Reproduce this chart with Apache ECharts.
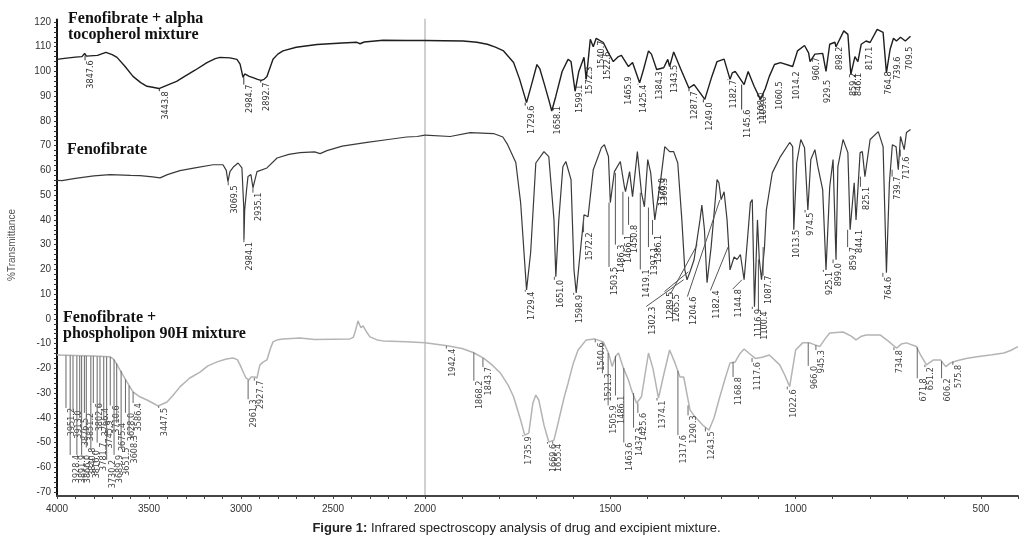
<!DOCTYPE html>
<html>
<head>
<meta charset="utf-8">
<script src="https://cdn.jsdelivr.net/npm/echarts@6/dist/echarts.min.js"></script>
<style>
  html, body { margin: 0; padding: 0; background: #fff; }
  #main { width: 1033px; height: 536px; }
</style>
</head>
<body>
<div id="main"></div>
<script>
// spectra: [wavenumber cm-1, %T]
const tocoTrace = [
  [4000,104.9],[3960,105.3],[3900,105.8],[3864,106],[3850,107.3],[3840,106.2],[3780,106.5],[3734,107.7],[3700,106.8],
  [3674,105.7],[3630,102],[3587,98],[3545,95.5],[3511,94],[3480,93.6],[3446,93.1],[3400,94.5],[3350,96],[3315,97.6],
  [3250,100.5],[3185,103.6],[3140,105.2],[3114,105.7],[3060,105.5],[3022,104.9],[3005,103],[2989,97.6],[2980,99],
  [2973,99.6],[2955,98],[2935,97.5],[2910,96.8],[2891,96.4],[2875,96.8],[2859,98],[2840,102],[2826,104.9],[2800,107],
  [2772,108.3],[2700,109.8],[2587,110.9],[2450,111.5],[2370,111.8],[2353,111.2],[2330,111.9],[2228,112.6],[2100,112.5],
  [2000,112.5],[1950,112.4],[1897,112.3],[1860,111.8],[1832,111],[1810,109.8],[1788,108.3],[1761,103.6],[1745,97],
  [1726,87.4],[1712,95],[1698,102.8],[1690,101],[1679,95.4],[1665,88],[1658,84],[1647,90],[1630,100],[1614,104.9],
  [1606,104],[1595,92],[1585,100],[1571,105.7],[1565,96.8],[1560,104],[1554,113],[1546,110],[1538,113.4],[1519,111.7],
  [1505,107.5],[1492,104],[1478,106],[1470,106.5],[1451,102],[1440,103.6],[1421,95.4],[1410,101],[1397,108.3],
  [1389,107],[1375,100.8],[1356,101.5],[1345,104.9],[1340,102],[1329,107.9],[1310,101],[1288,93.3],[1274,94.7],
  [1245,88.7],[1226,98],[1212,104],[1193,105],[1177,96.8],[1171,99.4],[1163,100],[1139,94.7],[1128,100],[1112,94],
  [1095,88.7],[1082,93],[1071,98],[1057,102.8],[1041,103.6],[1008,102],[995,108.3],[976,110.5],[965,107.5],[961,104],
  [948,107],[927,107.3],[918,100],[908,111],[894,111.8],[891,110],[870,116.4],[859,115],[851,98.8],[840,106],[832,104],
  [823,111],[810,112.3],[799,111.7],[780,117],[764,115.8],[755,99.4],[745,109],[736,113.4],[728,112.3],[717,113.8],
  [704,112.3],[690,114.2]
];
const fenoTrace = [
  [4000,56],[3973,55.9],[3900,56.8],[3800,57.8],[3712,58.3],[3600,58],[3549,57.9],[3480,57.4],[3440,57],[3400,58.3],
  [3332,59.9],[3250,61],[3152,62.3],[3098,62.3],[3080,60],[3071,55.5],[3060,59.5],[3040,61.5],[3016,63],[2995,61],
  [2985,45],[2984,32],[2980,44],[2970,52],[2962,57.5],[2946,58.3],[2935,53],[2925,56],[2913,59.5],[2859,61],[2804,65],
  [2740,66.5],[2679,67.2],[2600,67.5],[2570,66.8],[2533,68],[2450,69.8],[2315,71.3],[2200,72.5],[2100,73.5],[2043,73.7],
  [2000,74.3],[1932,73.7],[1878,75.3],[1815,74.9],[1790,73.5],[1777,70.4],[1755,63.2],[1742,47],[1726,11.7],[1715,26.7],
  [1701,63],[1679,67.6],[1666,65.6],[1652,40],[1647,17],[1639,40],[1628,61.5],[1620,63.6],[1606,56.3],[1598,19.8],
  [1592,10.5],[1584,22.7],[1573,38.9],[1571,42.1],[1560,41.3],[1546,60.3],[1524,69.2],[1516,70.4],[1505,65.6],[1500,47],
  [1489,59.5],[1484,60.3],[1473,63.6],[1462,53.4],[1459,51.4],[1448,59.5],[1440,49.4],[1427,67.6],[1416,51],[1408,45.3],
  [1399,64.4],[1391,59],[1380,40],[1372,48.2],[1364,56.3],[1353,69.6],[1340,67.6],[1329,67.6],[1318,63],[1307,40],
  [1299,19.8],[1293,15.8],[1285,19],[1274,23.9],[1258,40],[1253,46],[1246,36],[1239,14.6],[1228,29],[1212,56.3],
  [1207,55],[1201,48.2],[1193,51.4],[1185,40],[1177,19.8],[1166,25],[1158,24],[1149,26],[1139,15.8],[1130,32],[1122,47],
  [1117,48.2],[1111,4.9],[1103,40],[1098,24],[1092,15.8],[1084,29],[1079,44],[1063,59],[1041,65.6],[1016,71.3],
  [1008,69.6],[1005,36],[997,63.2],[986,72.5],[976,69.2],[967,44],[959,64.4],[948,68.4],[940,61.5],[927,52.2],
  [918,19.8],[908,53.4],[899,64.4],[891,23.9],[886,61.5],[872,72.5],[859,67.2],[853,36],[842,55],[837,40],[826,67.2],
  [820,67.6],[813,57.5],[799,72.5],[777,75.7],[764,69.6],[755,18.6],[747,55],[739,70.4],[729,69.6],[723,60.3],
  [717,73.7],[707,68.4],[701,75.3],[690,76.5]
];
const phosTrace = [
  [4000,-14.6],[3900,-14.8],[3800,-15],[3712,-15.3],[3690,-16.5],[3658,-20.6],[3620,-25.5],[3587,-29.5],[3550,-31.5],
  [3511,-32.8],[3480,-34],[3451,-35.2],[3402,-33.6],[3370,-31],[3332,-27.5],[3280,-24],[3223,-21.5],[3180,-19],
  [3130,-17.4],[3080,-16.2],[3043,-15.8],[3020,-16.5],[3005,-18.6],[2985,-22],[2973,-23.9],[2957,-24.7],[2945,-23.5],
  [2935,-22.7],[2925,-23.5],[2913,-23.9],[2905,-21],[2897,-18.6],[2880,-17.5],[2859,-16.6],[2840,-12],[2826,-9.3],
  [2800,-8.4],[2772,-8.1],[2679,-7.7],[2600,-8.3],[2500,-8.2],[2408,-8.1],[2390,-7.5],[2380,-5.3],[2364,-0.8],
  [2355,-2.5],[2348,-3.6],[2337,-2.8],[2320,-5],[2299,-7.3],[2260,-8.5],[2228,-8.9],[2100,-9.3],[2000,-9.7],
  [1940,-10.9],[1900,-12],[1870,-13.6],[1842,-15.9],[1820,-18.5],[1796,-22],[1775,-27],[1761,-31.5],[1742,-40.9],
  [1731,-47],[1720,-46.2],[1709,-34.1],[1701,-30.8],[1693,-32.8],[1679,-42.9],[1666,-49.8],[1652,-49],[1639,-40.9],
  [1625,-32],[1614,-26],[1600,-18],[1587,-12.6],[1565,-8.5],[1543,-8.1],[1519,-9.3],[1505,-13.8],[1495,-19.3],
  [1485,-15],[1478,-13.8],[1465,-19.8],[1451,-24.7],[1443,-28.7],[1429,-34.1],[1416,-31.5],[1397,-13.8],[1385,-20],
  [1370,-32],[1355,-22],[1340,-12.6],[1325,-18],[1312,-23.5],[1302,-23.5],[1285,-36.8],[1272,-39.5],[1250,-43],
  [1234,-45],[1220,-40],[1207,-32.8],[1190,-24],[1177,-17.8],[1163,-17.4],[1150,-14],[1139,-12.2],[1125,-14],
  [1109,-16],[1090,-15.5],[1071,-14.6],[1043,-18.6],[1030,-22.5],[1016,-27.4],[1008,-20],[1000,-12.6],[981,-9.7],
  [962,-9.7],[948,-10.5],[935,-11.2],[920,-8],[908,-5.7],[872,-5.3],[850,-7],[837,-8.5],[822,-7],[810,-6.5],
  [772,-6.5],[750,-9],[728,-11.8],[715,-10.2],[701,-9.7],[674,-11.2],[663,-14.6],[647,-18.6],[628,-16.6],[609,-16.6],
  [595,-19.3],[582,-17.8],[565,-16.9],[540,-16],[511,-15.3],[470,-14.5],[438,-13.8],[420,-12.8],[400,-11.2]
];

// peak labels: [peak cm-1, %T at peak, %T where the label starts, (label cm-1 if shifted)]
const tocoPeaks = [
  [3847.6,106.5,104.5],[3443.8,93.1,92],[2984.7,97.6,94.7],[2892.7,96.4,95.5],
  [1729.6,87.4,86.2],[1658.1,86,86],[1599.1,94.7,94.7],[1572.3,102,102],[1540.7,112.5,112.5],[1522.6,108,108],
  [1465.9,98,98],[1425.4,95,94.7],[1384.3,100,100],[1343.5,102.7,102.7],[1287.7,93.3,92],[1249.0,88.7,87.5],
  [1182.7,96.8,96.5],[1145.6,94.7,84.6],[1108.0,91.5,91.5],[1103.0,90,90],[1060.5,96,96],[1014.2,100,100],
  [960.7,105.7,105.7],[929.5,96.6,96.6],[898.2,110,110],[859.2,99.4,99.4],[846.1,99.4,99.4],[817.1,110,110],
  [764.8,100,100],[739.6,106,106],[709.5,110,110]
];
const fenoPeaks = [
  [3069.5,55.5,54],[2984.1,32,31],[2935.1,53,51],
  [1729.4,11.7,11],[1651.0,17,15.8],[1598.9,10.5,9.7],[1572.2,41,35],[1503.5,47,21],[1486.3,59,30],[1466.1,51.4,34],
  [1450.8,49.4,38],[1419.1,51,20],[1397.1,45,29],[1386.1,40,34],[1376.0,57,57],[1369.3,57,57],
  [1302.3,15.8,5,1403],[1289.5,19,11,1354],[1265.5,30,10,1338],[1204.6,48,9,1292],[1182.4,29,11.5,1230],
  [1144.8,15.8,12,1170],[1116.9,4.9,4],[1100.4,24,3],[1087.7,29,17.5],
  [1013.5,36,36],[974.5,44,43],[925.1,19.8,19],[899.0,24,22.5],[859.7,36,29],[844.1,36,36],[825.1,57.5,53.4],
  [764.6,18.6,17],[739.7,60.3,57.5],[717.6,68.4,65.6]
];
const phosPeaks = [
  [3951.2,-14.8,-36],[3928.4,-14.8,-55],[3913.0,-14.9,-37],[3891.9,-15,-55],[3876.5,-15,-40],[3866.0,-15,-55],
  [3851.2,-15,-38],[3840.8,-15,-52],[3816.0,-15.1,-53],[3802.6,-15.1,-34],[3781.7,-15.2,-50],[3766.4,-15.2,-36],
  [3745.9,-15.3,-41],[3730.2,-15.3,-57],[3710.6,-15.4,-35],[3689.9,-16.5,-55],[3675.4,-18,-42],[3651.5,-21,-52],
  [3628.0,-24.5,-38],[3608.3,-27,-47],[3586.4,-29.5,-34],
  [3447.5,-35.2,-36],[2961.3,-24.7,-32.5],[2927.7,-23.9,-25],
  [1942.4,-10.9,-12],[1868.2,-13.6,-25],[1843.7,-15.9,-19.5],[1735.9,-47,-47.5],[1669.6,-49.8,-50.5],[1655.4,-49.5,-50.5],
  [1540.6,-8.3,-9.5],[1521.3,-9.5,-22],[1505.9,-13.8,-35],[1486.1,-15,-31],[1463.6,-19.8,-50],[1437.3,-30,-44],
  [1425.6,-34.1,-38],[1374.1,-32,-33],[1317.6,-21,-47],[1290.3,-35,-39],[1243.5,-44,-45.5],[1168.8,-17.4,-23.5],
  [1117.6,-15.8,-17.5],[1022.6,-27.4,-28.5],[966.0,-9.7,-19],[945.3,-10.6,-12.6],[734.8,-11.5,-12.6],
  [671.8,-11.5,-24],[651.2,-18.6,-19.5],[606.2,-17,-24],[575.8,-17.2,-18.6]
];

const yMajor = [], yMinor = [];
for (let v = -70; v <= 120; v += 10) yMajor.push(v);
for (let v = -70; v <= 120; v += 2) yMinor.push(v);
const xTicksHigh = [], xTicksLow = [];
for (let v = 2000; v <= 4000; v += 100) xTicksHigh.push(v);
for (let v = 400; v <= 2000; v += 100) xTicksLow.push(v);

const chart = echarts.init(document.getElementById('main'));

const hi = arr => arr.filter(p => p[0] >= 2000);
const lo = arr => arr.filter(p => p[0] <= 2000);

const labelFont = '9px "Liberation Sans Narrow", "DejaVu Sans Condensed", sans-serif';
const axisFont = '"Liberation Sans", Arial, sans-serif';
const nameFont = 'bold 16px "Liberation Serif", "Times New Roman", serif';

function peakLabels (list, axis, textColor, lineColor) {
	return {
		type: 'custom',
		xAxisIndex: axis,
		yAxisIndex: axis,
		silent: true,
		z: 4,
		clip: false,
		data: list.map(d => [d[0], d[2]]),
		renderItem (params, api) {
			const d = list[params.dataIndex];
			const lx = d.length > 3 ? d[3] : d[0];
			const p = api.coord([d[0], d[1]]);
			const q = api.coord([lx, d[2]]);
			const kids = [];
			if (d[1] > d[2] || lx !== d[0]) {
				kids.push({
					type: 'line',
					shape: { x1: p[0], y1: p[1], x2: q[0], y2: q[1] },
					style: { stroke: lineColor, lineWidth: 1 }
				});
			}
			kids.push({
				type: 'text',
				x: q[0] + 6,
				y: q[1],
				rotation: Math.PI / 2,
				style: {
					text: d[0].toFixed(1),
					fill: textColor,
					font: labelFont,
					align: 'right',
					verticalAlign: 'middle'
				}
			});
			return { type: 'group', children: kids };
		}
	};
}

function trace (data, axis, color, width) {
	return {
		type: 'line',
		xAxisIndex: axis,
		yAxisIndex: axis,
		data: data,
		showSymbol: false,
		symbol: 'none',
		silent: true,
		z: 3,
		lineStyle: { color: color, width: width }
	};
}

const yBase = {
	type: 'value',
	min: -71.6,
	max: 121,
	splitLine: { show: false }
};

const option = {
	animation: false,
	backgroundColor: '#fff',
	title: {
		text: '{b|Figure 1:} Infrared spectroscopy analysis of drug and excipient mixture.',
		left: 'center',
		top: 517,
		textStyle: {
			fontSize: 13,
			fontWeight: 'normal',
			color: '#222',
			fontFamily: axisFont,
			rich: {
				b: { fontSize: 13, fontWeight: 'bold', color: '#222', fontFamily: axisFont }
			}
		}
	},
	grid: [
		{ left: 57, top: 19.5, width: 368, bottom: 40 },
		{ left: 425, top: 19.5, right: 15, bottom: 40 }
	],
	xAxis: [
		{
			type: 'value', gridIndex: 0, min: 2000, max: 4000, inverse: true,
			splitLine: { show: false },
			axisLine: { onZero: false, lineStyle: { color: '#444', width: 2 } },
			axisTick: { customValues: xTicksHigh, length: 3, lineStyle: { color: '#444' } },
			axisLabel: { customValues: [4000, 3500, 3000, 2500, 2000], color: '#333', fontSize: 10, margin: 8,
				fontFamily: axisFont, formatter: v => String(v) }
		},
		{
			type: 'value', gridIndex: 1, min: 400, max: 2000, inverse: true,
			splitLine: { show: false },
			axisLine: { onZero: false, lineStyle: { color: '#444', width: 2 } },
			axisTick: { customValues: xTicksLow, length: 3, lineStyle: { color: '#444' } },
			axisLabel: { customValues: [1500, 1000, 500], color: '#333', fontSize: 10, margin: 8,
				fontFamily: axisFont, formatter: v => String(v) }
		}
	],
	yAxis: [
		Object.assign({}, yBase, {
			gridIndex: 0,
			axisLine: { show: true, onZero: false, lineStyle: { color: '#111', width: 2 } },
			axisTick: { customValues: yMinor, length: 3, lineStyle: { color: '#333' } },
			axisLabel: { customValues: yMajor, color: '#333', fontSize: 10, margin: 6, fontFamily: axisFont }
		}),
		Object.assign({}, yBase, {
			gridIndex: 1,
			axisLine: { show: true, onZero: false, lineStyle: { color: '#d0d0d0', width: 2 } },
			axisTick: { show: false },
			axisLabel: { show: false }
		})
	],
	graphic: [
		{
			type: 'text', x: 12, y: 245, rotation: Math.PI / 2,
			style: { text: '%Transmittance', fill: '#555', font: '10px "Liberation Sans", Arial, sans-serif',
				align: 'center', verticalAlign: 'middle' }
		},
		{
			type: 'text', x: 68, y: 11,
			style: { text: 'Fenofibrate + alpha\ntocopherol mixture', fill: '#111', lineHeight: 16, font: nameFont }
		},
		{
			type: 'text', x: 67, y: 142,
			style: { text: 'Fenofibrate', fill: '#111', font: nameFont }
		},
		{
			type: 'text', x: 63, y: 310,
			style: { text: 'Fenofibrate +\nphospholipon 90H mixture', fill: '#111', lineHeight: 16, font: nameFont }
		}
	],
	series: [
		trace(hi(tocoTrace), 0, '#1e1e1e', 1.4),
		trace(lo(tocoTrace), 1, '#1e1e1e', 1.4),
		trace(hi(fenoTrace), 0, '#3a3a3a', 1.2),
		trace(lo(fenoTrace), 1, '#3a3a3a', 1.2),
		trace(hi(phosTrace), 0, '#b4b4b4', 1.5),
		trace(lo(phosTrace), 1, '#b4b4b4', 1.5),
		peakLabels(hi(tocoPeaks), 0, '#333', '#333'),
		peakLabels(lo(tocoPeaks), 1, '#333', '#333'),
		peakLabels(hi(fenoPeaks), 0, '#333', '#555'),
		peakLabels(lo(fenoPeaks), 1, '#333', '#555'),
		peakLabels(hi(phosPeaks), 0, '#444', '#666'),
		peakLabels(lo(phosPeaks), 1, '#444', '#666')
	]
};

chart.setOption(option);
</script>
</body>
</html>
